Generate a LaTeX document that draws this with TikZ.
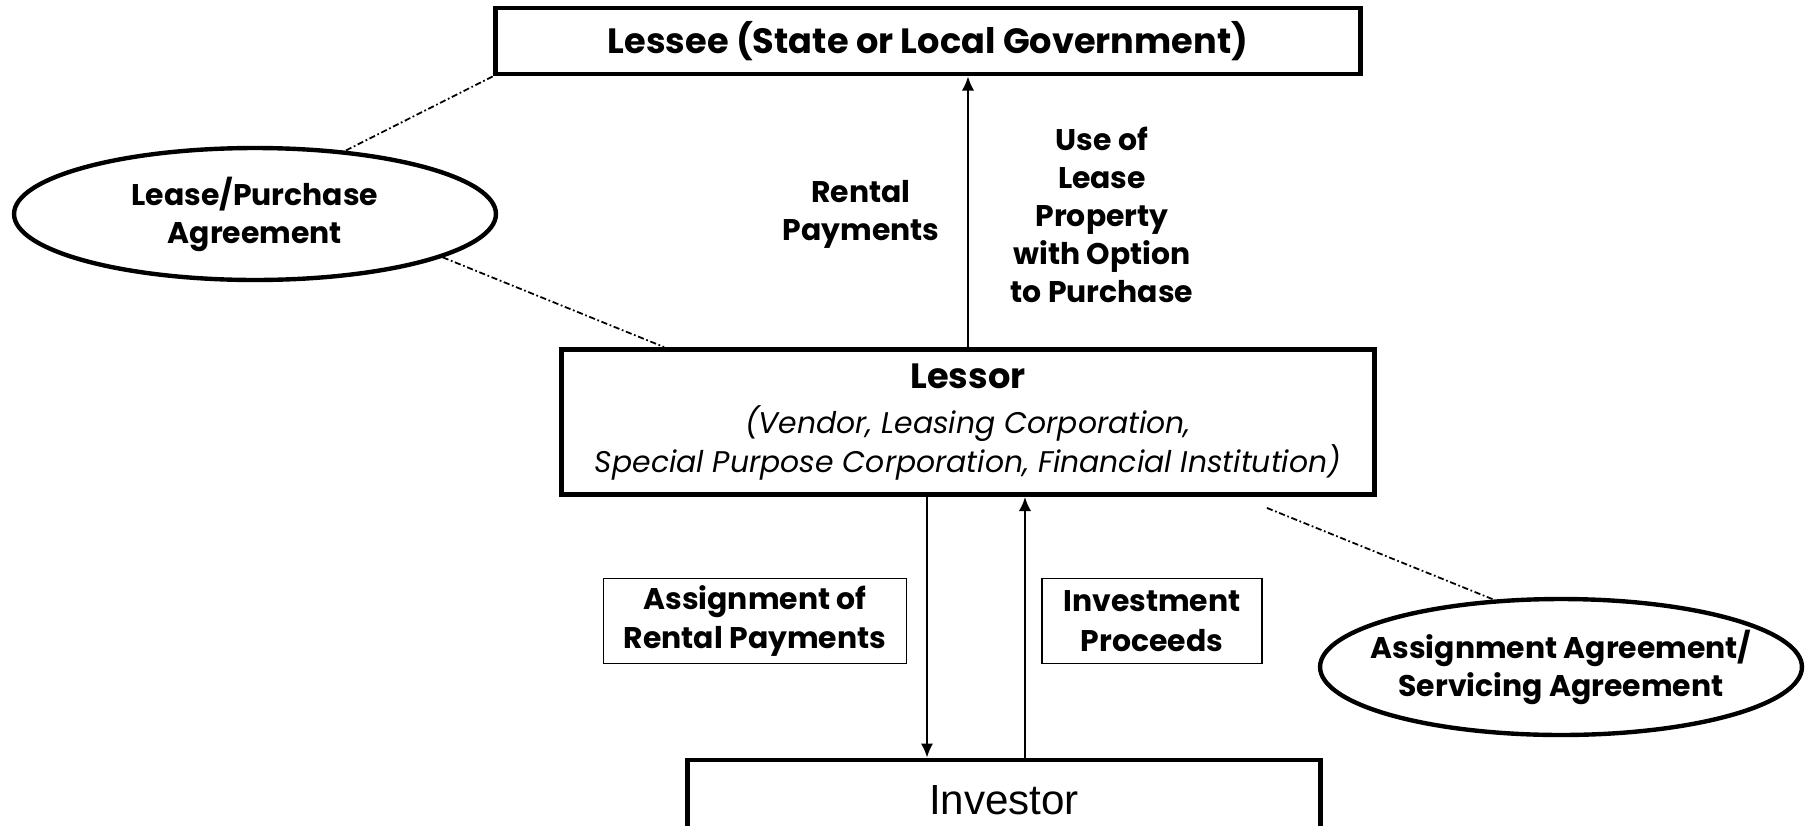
\documentclass[tikz,border=0pt]{standalone}
\usepackage{fontspec}
\setmainfont{Poppins}
\newfontfamily\arialfont{Liberation Sans}
\usetikzlibrary{shapes.geometric, arrows.meta, positioning}

\begin{document}
\begin{tikzpicture}[x=0.02cm, y=-0.02cm]
		% Define elements
		\tikzstyle{line} = [draw, -{Latex[length=8pt,width=7pt]}, line width=1.1pt]
		\tikzstyle{link} = [draw, line width=1pt, dash pattern=on 3.5pt off 1.5pt on 1pt off 1.5pt]
		\tikzstyle{party} = [rectangle, draw, line width=2.8pt, align=center]
		\tikzstyle{deal} = [ellipse, draw, line width=2.5pt, align=center, inner xsep=-0.5cm, inner ysep=0pt,
		    minimum width=9.64cm, font=\bfseries\fontsize{17}{21.6}\selectfont]
		\tikzstyle{flow} = [rectangle, draw, line width=0.9pt, align=center,
		    minimum height=1.7cm, font=\bfseries\fontsize{17}{22.5}\selectfont]
		\tikzstyle{textbf} = [align=center, font=\bfseries\fontsize{17}{21.6}\selectfont]
		\useasboundingbox (0,0) rectangle (1812,825);
		%% Parties
		\node [name = lessee, party, minimum width=17.32cm, minimum height=1.32cm,
		    font=\bfseries\fontsize{20}{24}\selectfont] at (928,41) {Lessee (State or Local Government)};
		\node [name = lessor, party, minimum width=16.26cm, minimum height=2.9cm,
		    font=\itshape\fontsize{17}{22.5}\selectfont] at (968,422)
		    {\textbf{\textup{\fontsize{20}{24}\selectfont Lessor}}\\[3pt]
		     (Vendor, Leasing Corporation,\\
		      Special Purpose Corporation, Financial Institution)};
		\node [name = investor, party, minimum width=12.66cm, minimum height=1.6cm,
		    font=\arialfont\fontsize{24}{28}\selectfont] at (1004,800) {Investor};

		%% Agreements
		\node [name = lpa, deal, minimum height=2.64cm] at (255,214) {Lease/Purchase\\Agreement};
		\node [name = asa, deal, minimum height=2.72cm] at (1561,667) {Assignment Agreement/\\Servicing Agreement};

		%% Flows
		\node [name = rent, textbf] at (861,214) {Rental\\Payments};
		\node [name = use, textbf] at (1102,215) {Use of\\Lease\\Property\\with Option\\to Purchase};
		\node [name = assign, flow, minimum width=6.06cm] at (755,621) {Assignment of\\Rental Payments};
		\node [name = proceeds, flow, minimum width=4.4cm] at (1152,621) {Investment\\Proceeds};

	% arrows
		\path [line] (lessor.north) -- (lessor.north |- lessee.south);
		\path [line] ([xshift=-0.82cm]lessor.south) -- ([xshift=-0.82cm]lessor.south |- investor.north);
		\path [line] ([xshift=1.14cm]lessor.south |- investor.north) -- ([xshift=1.14cm]lessor.south);
	% links
		\path [link] (lessee.south west) -- (lpa.35);
		\path [link] (lpa.-13) -- ([xshift=2.1cm]lessor.north west);
		\path [link] ([xshift=-2.2cm,yshift=-0.22cm]lessor.south east) -- (asa.135);
	\end{tikzpicture}
\end{document}
